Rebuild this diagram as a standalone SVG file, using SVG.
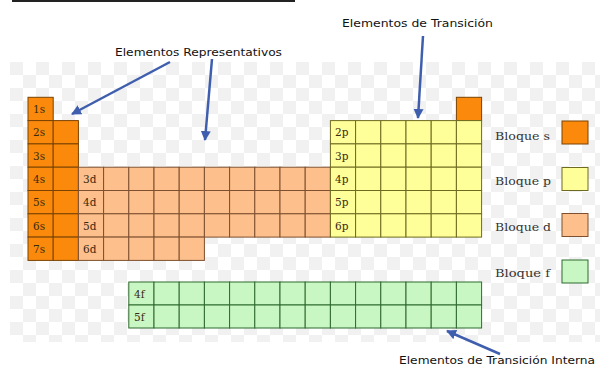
<svg xmlns="http://www.w3.org/2000/svg" width="605" height="383" viewBox="0 0 605 383">
<defs>
<pattern id="chk" x="10" y="62" width="26" height="26" patternUnits="userSpaceOnUse">
<rect x="0" y="0" width="13" height="13" fill="#f1f1f1"/>
<rect x="13" y="13" width="13" height="13" fill="#f1f1f1"/>
</pattern>
<marker id="ah" viewBox="0 0 10 10" refX="9" refY="5" markerWidth="4" markerHeight="4" orient="auto" markerUnits="strokeWidth">
<path d="M0,0 L10,5 L0,10 z" fill="#3f5fae"/>
</marker>
<style>
.s{fill:#fb8a0c;stroke:#7a4200;stroke-width:1}
.d{fill:#fdbf8c;stroke:#7e5030;stroke-width:1}
.p{fill:#ffff99;stroke:#6e6a20;stroke-width:1}
.f{fill:#c8f7c4;stroke:#2f6a2f;stroke-width:1}
.cl{font-family:"DejaVu Serif","Liberation Serif",serif;font-size:10.5px;fill:#3a2a10}
.lg{font-family:"DejaVu Serif","Liberation Serif",serif;font-size:11.5px;fill:#333}
.tl{font-family:"DejaVu Sans","Liberation Sans",sans-serif;font-size:10px;fill:#111}
.con{stroke:#3f5fae;stroke-width:2.5;fill:none;marker-end:url(#ah)}
</style>
</defs>
<rect width="605" height="383" fill="#fff"/>
<rect x="10" y="62" width="590" height="280" fill="url(#chk)"/>
<line x1="12" y1="1" x2="295" y2="1" stroke="#222" stroke-width="2"/>

<g id="s-block">
<rect class="s" x="28" y="97.3" width="25.2" height="23.3"/>
<rect class="s" x="28" y="120.6" width="25.2" height="23.3"/>
<rect class="s" x="28" y="143.9" width="25.2" height="23.3"/>
<rect class="s" x="28" y="167.2" width="25.2" height="23.3"/>
<rect class="s" x="28" y="190.5" width="25.2" height="23.3"/>
<rect class="s" x="28" y="213.8" width="25.2" height="23.3"/>
<rect class="s" x="28" y="237.1" width="25.2" height="23.3"/>
<rect class="s" x="53.2" y="120.6" width="25.2" height="23.3"/>
<rect class="s" x="53.2" y="143.9" width="25.2" height="23.3"/>
<rect class="s" x="53.2" y="167.2" width="25.2" height="23.3"/>
<rect class="s" x="53.2" y="190.5" width="25.2" height="23.3"/>
<rect class="s" x="53.2" y="213.8" width="25.2" height="23.3"/>
<rect class="s" x="53.2" y="237.1" width="25.2" height="23.3"/>
<rect class="s" x="456.4" y="97.3" width="25.2" height="23.3"/>
<text class="cl" x="33" y="113">1s</text>
<text class="cl" x="33" y="136.3">2s</text>
<text class="cl" x="33" y="159.6">3s</text>
<text class="cl" x="33" y="182.9">4s</text>
<text class="cl" x="33" y="206.2">5s</text>
<text class="cl" x="33" y="229.5">6s</text>
<text class="cl" x="33" y="252.8">7s</text>
</g>

<g id="d-block">
<g>
<rect class="d" x="78.4" y="167.2" width="25.2" height="23.3"/><rect class="d" x="103.6" y="167.2" width="25.2" height="23.3"/><rect class="d" x="128.8" y="167.2" width="25.2" height="23.3"/><rect class="d" x="154" y="167.2" width="25.2" height="23.3"/><rect class="d" x="179.2" y="167.2" width="25.2" height="23.3"/><rect class="d" x="204.4" y="167.2" width="25.2" height="23.3"/><rect class="d" x="229.6" y="167.2" width="25.2" height="23.3"/><rect class="d" x="254.8" y="167.2" width="25.2" height="23.3"/><rect class="d" x="280" y="167.2" width="25.2" height="23.3"/><rect class="d" x="305.2" y="167.2" width="25.2" height="23.3"/>
<rect class="d" x="78.4" y="190.5" width="25.2" height="23.3"/><rect class="d" x="103.6" y="190.5" width="25.2" height="23.3"/><rect class="d" x="128.8" y="190.5" width="25.2" height="23.3"/><rect class="d" x="154" y="190.5" width="25.2" height="23.3"/><rect class="d" x="179.2" y="190.5" width="25.2" height="23.3"/><rect class="d" x="204.4" y="190.5" width="25.2" height="23.3"/><rect class="d" x="229.6" y="190.5" width="25.2" height="23.3"/><rect class="d" x="254.8" y="190.5" width="25.2" height="23.3"/><rect class="d" x="280" y="190.5" width="25.2" height="23.3"/><rect class="d" x="305.2" y="190.5" width="25.2" height="23.3"/>
<rect class="d" x="78.4" y="213.8" width="25.2" height="23.3"/><rect class="d" x="103.6" y="213.8" width="25.2" height="23.3"/><rect class="d" x="128.8" y="213.8" width="25.2" height="23.3"/><rect class="d" x="154" y="213.8" width="25.2" height="23.3"/><rect class="d" x="179.2" y="213.8" width="25.2" height="23.3"/><rect class="d" x="204.4" y="213.8" width="25.2" height="23.3"/><rect class="d" x="229.6" y="213.8" width="25.2" height="23.3"/><rect class="d" x="254.8" y="213.8" width="25.2" height="23.3"/><rect class="d" x="280" y="213.8" width="25.2" height="23.3"/><rect class="d" x="305.2" y="213.8" width="25.2" height="23.3"/>
<rect class="d" x="78.4" y="237.1" width="25.2" height="23.3"/><rect class="d" x="103.6" y="237.1" width="25.2" height="23.3"/><rect class="d" x="128.8" y="237.1" width="25.2" height="23.3"/><rect class="d" x="154" y="237.1" width="25.2" height="23.3"/><rect class="d" x="179.2" y="237.1" width="25.2" height="23.3"/>
</g>
<text class="cl" x="83" y="182.9">3d</text>
<text class="cl" x="83" y="206.2">4d</text>
<text class="cl" x="83" y="229.5">5d</text>
<text class="cl" x="83" y="252.8">6d</text>
</g>

<g id="p-block">
<g>
<rect class="p" x="330.4" y="120.6" width="25.2" height="23.3"/><rect class="p" x="355.6" y="120.6" width="25.2" height="23.3"/><rect class="p" x="380.8" y="120.6" width="25.2" height="23.3"/><rect class="p" x="406" y="120.6" width="25.2" height="23.3"/><rect class="p" x="431.2" y="120.6" width="25.2" height="23.3"/><rect class="p" x="456.4" y="120.6" width="25.2" height="23.3"/>
<rect class="p" x="330.4" y="143.9" width="25.2" height="23.3"/><rect class="p" x="355.6" y="143.9" width="25.2" height="23.3"/><rect class="p" x="380.8" y="143.9" width="25.2" height="23.3"/><rect class="p" x="406" y="143.9" width="25.2" height="23.3"/><rect class="p" x="431.2" y="143.9" width="25.2" height="23.3"/><rect class="p" x="456.4" y="143.9" width="25.2" height="23.3"/>
<rect class="p" x="330.4" y="167.2" width="25.2" height="23.3"/><rect class="p" x="355.6" y="167.2" width="25.2" height="23.3"/><rect class="p" x="380.8" y="167.2" width="25.2" height="23.3"/><rect class="p" x="406" y="167.2" width="25.2" height="23.3"/><rect class="p" x="431.2" y="167.2" width="25.2" height="23.3"/><rect class="p" x="456.4" y="167.2" width="25.2" height="23.3"/>
<rect class="p" x="330.4" y="190.5" width="25.2" height="23.3"/><rect class="p" x="355.6" y="190.5" width="25.2" height="23.3"/><rect class="p" x="380.8" y="190.5" width="25.2" height="23.3"/><rect class="p" x="406" y="190.5" width="25.2" height="23.3"/><rect class="p" x="431.2" y="190.5" width="25.2" height="23.3"/><rect class="p" x="456.4" y="190.5" width="25.2" height="23.3"/>
<rect class="p" x="330.4" y="213.8" width="25.2" height="23.3"/><rect class="p" x="355.6" y="213.8" width="25.2" height="23.3"/><rect class="p" x="380.8" y="213.8" width="25.2" height="23.3"/><rect class="p" x="406" y="213.8" width="25.2" height="23.3"/><rect class="p" x="431.2" y="213.8" width="25.2" height="23.3"/><rect class="p" x="456.4" y="213.8" width="25.2" height="23.3"/>
</g>
<text class="cl" x="335" y="136.3">2p</text>
<text class="cl" x="335" y="159.6">3p</text>
<text class="cl" x="335" y="182.9">4p</text>
<text class="cl" x="335" y="206.2">5p</text>
<text class="cl" x="335" y="229.5">6p</text>
</g>

<g id="f-block">
<g>
<rect class="f" x="128.8" y="282" width="25.2" height="23"/><rect class="f" x="154" y="282" width="25.2" height="23"/><rect class="f" x="179.2" y="282" width="25.2" height="23"/><rect class="f" x="204.4" y="282" width="25.2" height="23"/><rect class="f" x="229.6" y="282" width="25.2" height="23"/><rect class="f" x="254.8" y="282" width="25.2" height="23"/><rect class="f" x="280" y="282" width="25.2" height="23"/><rect class="f" x="305.2" y="282" width="25.2" height="23"/><rect class="f" x="330.4" y="282" width="25.2" height="23"/><rect class="f" x="355.6" y="282" width="25.2" height="23"/><rect class="f" x="380.8" y="282" width="25.2" height="23"/><rect class="f" x="406" y="282" width="25.2" height="23"/><rect class="f" x="431.2" y="282" width="25.2" height="23"/><rect class="f" x="456.4" y="282" width="25.2" height="23"/>
<rect class="f" x="128.8" y="305" width="25.2" height="23"/><rect class="f" x="154" y="305" width="25.2" height="23"/><rect class="f" x="179.2" y="305" width="25.2" height="23"/><rect class="f" x="204.4" y="305" width="25.2" height="23"/><rect class="f" x="229.6" y="305" width="25.2" height="23"/><rect class="f" x="254.8" y="305" width="25.2" height="23"/><rect class="f" x="280" y="305" width="25.2" height="23"/><rect class="f" x="305.2" y="305" width="25.2" height="23"/><rect class="f" x="330.4" y="305" width="25.2" height="23"/><rect class="f" x="355.6" y="305" width="25.2" height="23"/><rect class="f" x="380.8" y="305" width="25.2" height="23"/><rect class="f" x="406" y="305" width="25.2" height="23"/><rect class="f" x="431.2" y="305" width="25.2" height="23"/><rect class="f" x="456.4" y="305" width="25.2" height="23"/>
</g>
<text class="cl" x="134" y="297.5">4f</text>
<text class="cl" x="134" y="320.5">5f</text>
</g>

<g id="legend">
<g id="legend-s"><rect class="s" x="562" y="121" width="26" height="23"/><text class="lg" x="495" y="139.5" textLength="55" lengthAdjust="spacingAndGlyphs">Bloque s</text></g>
<g id="legend-p"><rect class="p" x="562" y="167.5" width="26" height="23"/><text class="lg" x="495" y="184.5" textLength="56" lengthAdjust="spacingAndGlyphs">Bloque p</text></g>
<g id="legend-d"><rect class="d" x="562" y="213.5" width="26" height="23"/><text class="lg" x="495" y="230.5" textLength="56" lengthAdjust="spacingAndGlyphs">Bloque d</text></g>
<g id="legend-f"><rect class="f" x="562" y="260" width="26" height="23"/><text class="lg" x="495" y="276.5" textLength="55" lengthAdjust="spacingAndGlyphs">Bloque f</text></g>
</g>

<g id="labels">
<text id="lbl-rep" class="tl" x="115" y="56" textLength="167" lengthAdjust="spacingAndGlyphs">Elementos Representativos</text>
<text id="lbl-trans" class="tl" x="342" y="27" textLength="151" lengthAdjust="spacingAndGlyphs">Elementos de Transición</text>
<text id="lbl-int" class="tl" x="399" y="364" textLength="196" lengthAdjust="spacingAndGlyphs">Elementos de Transición Interna</text>
</g>

<g id="connectors">
<line class="con" x1="170" y1="62" x2="72" y2="114"/>
<line class="con" x1="212" y1="59" x2="205" y2="140"/>
<line class="con" x1="423" y1="36" x2="418" y2="118"/>
<line class="con" x1="500" y1="354" x2="447" y2="331"/>
</g>
</svg>
